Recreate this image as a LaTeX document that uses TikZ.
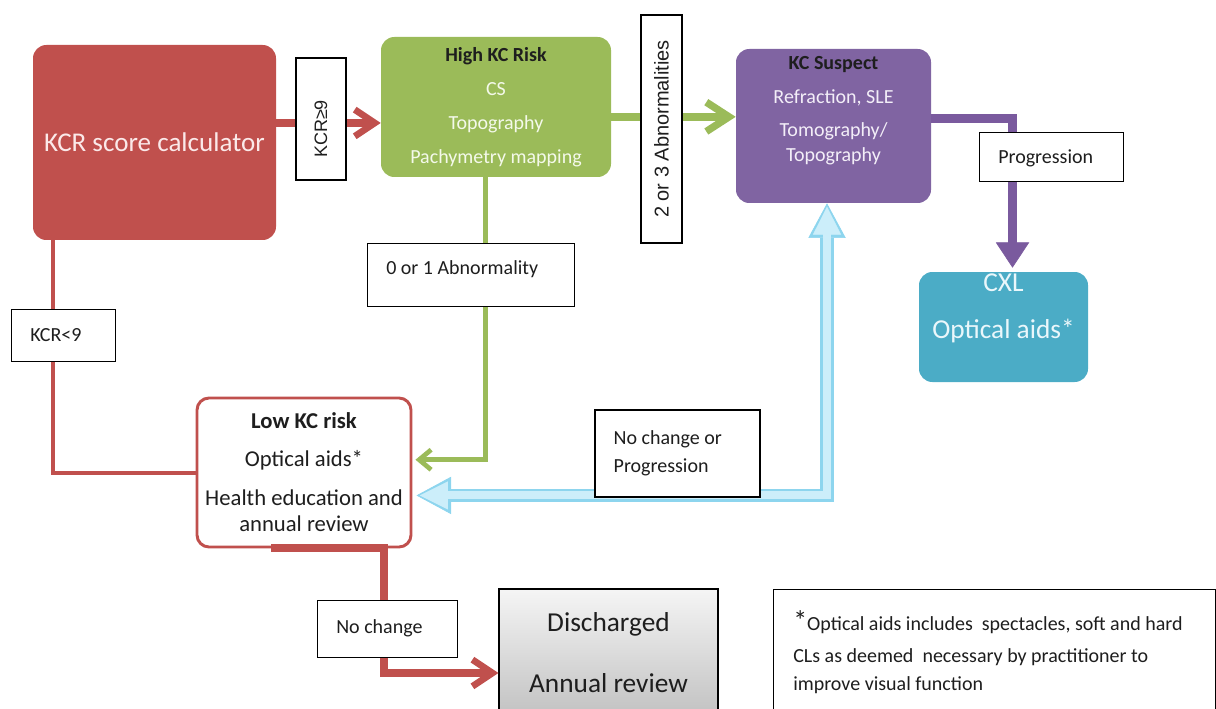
\documentclass[tikz,border=0pt]{standalone}
\usepackage{fontspec}
\usepackage{xcolor}
\usepackage{tikz}
\setmainfont{Carlito}
\newfontfamily\arialfont{Liberation Sans}
\usetikzlibrary{arrows.meta,calc,positioning}

\definecolor{kcred}{HTML}{C0504D}
\definecolor{kcgreen}{HTML}{9BBB59}
\definecolor{kcpurple}{HTML}{8064A2}
\definecolor{kcpurpleline}{HTML}{7A5A9E}
\definecolor{kcteal}{HTML}{4BACC6}
\definecolor{kcblue}{HTML}{8DD5EE}
\definecolor{kcbluefill}{HTML}{CCEEFA}
\definecolor{kcdark}{HTML}{1E1E1E}
\definecolor{kcrtext}{HTML}{FBE9E9}
\definecolor{greentext}{HTML}{F4F9EA}
\definecolor{purpletext}{HTML}{F3EEF8}
\definecolor{tealtext}{HTML}{EAF7FB}

\tikzset{
    box/.style={rectangle, rounded corners=10pt, inner sep=0pt, align=center},
    lbl/.style={rectangle, draw=black, fill=white, line width=0.9pt, inner xsep=14pt, inner ysep=0pt,
        align=flush left, anchor=north west, text=kcdark, font=\fontsize{15}{21}\selectfont},
    vlbl/.style={rectangle, draw=black, fill=white, line width=0.9pt, inner sep=0pt, rotate=90,
        text=kcdark, font=\arialfont\fontsize{15}{18}\selectfont},
    redarrow/.style={draw=kcred, line width=6pt, -{Straight Barb[length=15pt,width=20pt,line width=5pt]}},
    greenarrow/.style={draw=kcgreen, line width=6.5pt, -{Straight Barb[length=17pt,width=22pt,line width=5.5pt]}},
    redline/.style={draw=kcred, line width=3pt},
    greenline/.style={draw=kcgreen, line width=3.75pt, -{Straight Barb[length=9pt,width=15pt,line width=3.5pt]}},
    purplearrow/.style={draw=kcpurpleline, line width=6.5pt, shorten >=3pt, -{Triangle[length=19pt,width=25pt,line width=0.5pt]}},
    blueedge/.style={draw=kcblue, line width=10pt,
        {Triangle[length=26pt,width=28pt,line width=0.5pt]}-{Triangle[length=26pt,width=28pt,line width=0.5pt]}},
    bluecore/.style={draw=kcbluefill, line width=6pt, shorten <=2.5pt, shorten >=2.5pt,
        {Triangle[length=21pt,width=21pt,line width=0.5pt]}-{Triangle[length=21pt,width=21pt,line width=0.5pt]}}
}

\begin{document}
\begin{tikzpicture}[x=0.75pt, y=-0.75pt]
    \clip (0,0) rectangle (1216,709);

    \node[box, fill=kcred, text=kcrtext, minimum width=182.25pt, minimum height=146.25pt,
        font=\fontsize{20.3}{24}\selectfont] (kcr) at (154.5,142.5) {KCR score calculator};
    \node[box, fill=kcgreen, text=greentext, minimum width=172.5pt, minimum height=105pt,
        font=\fontsize{15}{25.5}\selectfont] (high) at (496,107)
        {\textbf{\textcolor{kcdark}{High KC Risk}}\\CS\\Topography\\Pachymetry mapping};
    \node[box, fill=kcpurple, minimum width=146.25pt, minimum height=115.5pt] (susp) at (833.5,126) {};
    \node[text=purpletext, align=center, font=\fontsize{15}{18.75}\selectfont] (susp text) at (833.5,111)
        {\textbf{\textcolor{kcdark}{KC Suspect}}\\[6.75pt]Refraction, SLE\\[6pt]Tomography/\\Topography};
    \node[box, fill=kcteal, minimum width=126.75pt, minimum height=82.5pt] (cxl) at (1003.5,327) {};
    \node[text=tealtext, align=center, font=\fontsize{20.5}{35.25}\selectfont] (cxl text) at (1003.5,308.5)
        {CXL\\Optical aids*};
    \node[box, rounded corners=9pt, draw=kcred, line width=2.2pt, fill=white, text=kcdark,
        minimum width=160.5pt, minimum height=111.75pt, font=\fontsize{17}{19.5}\selectfont] (low) at (304,472.5)
        {\textbf{Low KC risk}\\[9pt]Optical aids*\\[9.75pt]Health education and\\annual review};
    \node[box, rounded corners=0pt, draw=black, line width=0.8pt, top color=white!96!black, bottom color=white!76!black,
        text=kcdark, minimum width=164.25pt, minimum height=95.25pt, font=\fontsize{20.5}{45.75}\selectfont]
        (disc) at (608.5,652.5) {Discharged\\Annual review};
    \node[rectangle, draw=black, line width=0.9pt, fill=white, inner sep=0pt, anchor=north west,
        minimum width=331.5pt, minimum height=105pt] (note) at (773,589) {};
    \node[anchor=west, align=left, inner sep=0pt, text=kcdark, font=\fontsize{15}{21}\selectfont] (note text) at (793,652)
        {{\fontsize{21}{21}\selectfont*}Optical aids includes~ spectacles, soft and hard\\[3pt]CLs as deemed~ necessary by practitioner to\\improve visual function};

    \coordinate (r9) at ($(kcr.north east)!0.4!(kcr.south east)$);
    \coordinate (g23) at ($(high.north east)!0.57!(high.south east)$);
    \coordinate (pprog) at ($(susp.north east)!0.45!(susp.south east)$);
    \coordinate (rlow) at ($(kcr.south)+(-101.5,0)$);
    \coordinate (g01) at ($(high.south)+(-11,0)$);
    \coordinate (glow) at ($(low.north east)!0.416!(low.south east)+(3,0)$);
    \coordinate (blow) at ($(low.north east)!0.651!(low.south east)+(4,0)$);
    \coordinate (bsusp) at ($(susp.south)+(-6.5,0)$);
    \coordinate (rdisc0) at ($(low.south)+(-33,0)$);
    \coordinate (rdisc) at ($(disc.north west)!0.66!(disc.south west)$);

    \draw[redarrow] (r9) -- (high.west |- r9);
    \draw[greenarrow] (g23) -- (susp.west |- g23);
    \draw[purplearrow] (pprog) -| ($(cxl.north)+(9,0)$);
    \draw[redline] (rlow) |- (low.west);
    \draw[greenline] (g01) |- (glow);
    \draw[blueedge] (blow) -| (bsusp);
    \draw[bluecore] (blow) -| (bsusp);
    \draw[redarrow] (rdisc0) -| ($(rdisc)+(-114,0)$) -- (rdisc);

    \node[vlbl, minimum width=91.5pt, minimum height=37.5pt, font=\arialfont\fontsize{13.5}{16}\selectfont]
        (kcrhigh lbl) at (321,119) {KCR≥9\kern15pt};
    \node[vlbl, minimum width=171pt, minimum height=30.75pt] (abn23 lbl) at (661.5,129) {2 or 3 Abnormalities};
    \node[lbl, text width=50pt, text height=24pt, text depth=15pt] (kcrlow lbl) at (11,309) {KCR<9};
    \node[lbl, text width=127.25pt, text height=23.25pt, text depth=24pt] (abn01 lbl) at (367,243) {0 or 1 Abnormality};
    \node[lbl, text width=80pt, text height=23.25pt, text depth=13.5pt] (prog lbl) at (979,132) {Progression};
    \node[lbl, text width=77pt, text height=24.75pt, text depth=18pt] (nochange lbl) at (317,600) {No change};
    \node[lbl, anchor=center, text width=95.75pt, minimum height=65.25pt] (nochprog lbl) at (677.5,453.5)
        {No change or\\Progression};
\end{tikzpicture}
\end{document}
